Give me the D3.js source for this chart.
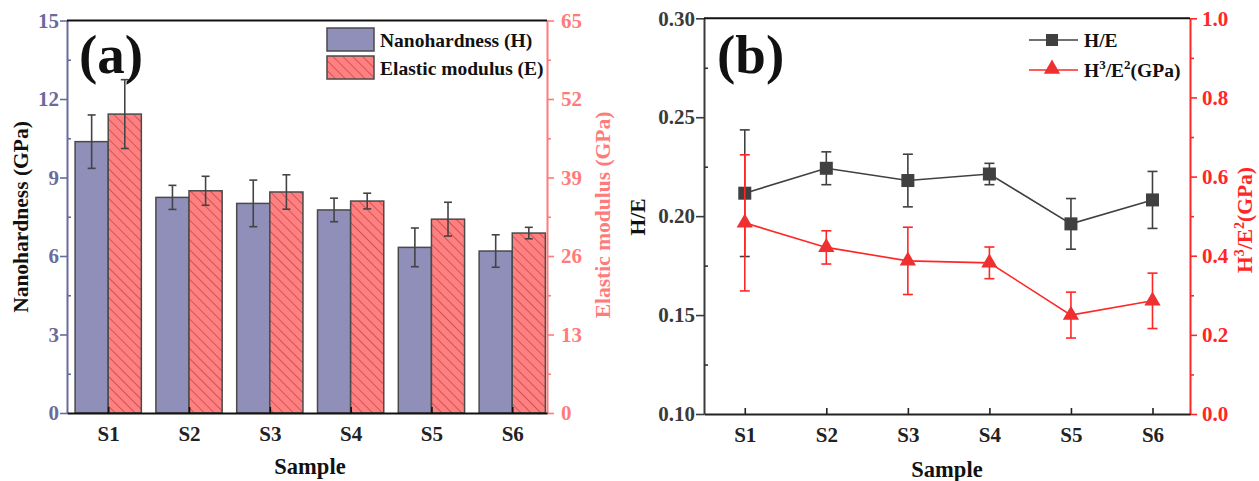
<!DOCTYPE html>
<html lang="en">
<head>
<meta charset="UTF-8" />
<title>Nanohardness and H/E</title>
<script src="https://d3js.org/d3.v7.min.js"></script>
<style>
  body { margin: 0; background: #fff; }
  text { font-family: "Liberation Serif", "Times New Roman", serif; font-weight: bold; }
</style>
</head>
<body>
<script>
  // ---- data ----
  const samples = ["S1", "S2", "S3", "S4", "S5", "S6"];

  // panel (a)
  const hardness    = [10.37, 8.24, 8.01, 7.76, 6.33, 6.19];
  const hardnessErr = [1.02, 0.46, 0.89, 0.45, 0.74, 0.62];
  const modulus     = [49.5, 36.8, 36.6, 35.1, 32.1, 29.8];
  const modulusErr  = [5.7, 2.4, 2.85, 1.3, 2.8, 0.95];

  // panel (b)
  const hOverE     = [0.2116, 0.2242, 0.2180, 0.2213, 0.1961, 0.2082];
  const hOverEErr  = [0.032, 0.0083, 0.0133, 0.0054, 0.0128, 0.0144];
  const h3e2       = [0.483, 0.421, 0.387, 0.382, 0.250, 0.286];
  const h3e2Err    = [0.172, 0.042, 0.085, 0.040, 0.058, 0.070];

  const leftTicksA  = [0, 3, 6, 9, 12, 15];
  const rightTicksA = [0, 13, 26, 39, 52, 65];
  const leftTicksB  = [0.10, 0.15, 0.20, 0.25, 0.30];
  const rightTicksB = [0, 0.2, 0.4, 0.6, 0.8, 1.0];

  const W = 1259, H = 481;
  const svg = d3.select("body").append("svg").attr("width", W).attr("height", H);

  const purple = "#6b6b9b", salmon = "#ff7b7b", red = "#ff2626", dark = "#404040";
  const FS = 21;      // tick labels
  const TS = 21.5;    // axis titles
  const LS = 19.5;    // legend
  const idx = samples.map((d, i) => i + 1);

  // hatch pattern for modulus bars
  const defs = svg.append("defs");
  const pat = defs.append("pattern")
    .attr("id", "hatch").attr("patternUnits", "userSpaceOnUse")
    .attr("width", 7).attr("height", 7)
    .attr("patternTransform", "rotate(45)");
  pat.append("rect").attr("width", 7).attr("height", 7).attr("fill", "#ff8080");
  pat.append("line").attr("x1", 0).attr("y1", 0).attr("x2", 7).attr("y2", 0)
    .attr("stroke", "#c84848").attr("stroke-width", 1.6);

  function styleAxis(g, color) {
    g.attr("font-family", null).attr("font-size", null);
    g.select(".domain").attr("stroke", color).attr("stroke-width", 2);
    g.selectAll(".tick line").attr("stroke", color).attr("stroke-width", 1.6);
    g.selectAll(".tick text").attr("fill", color).attr("font-size", FS);
  }
  function styleMinor(g, color) {
    g.select(".domain").remove();
    g.selectAll("line").attr("stroke", color).attr("stroke-width", 1.6);
  }

  // ================= panel (a) =================
  const ax = d3.scaleLinear().domain([0.49, 6.43]).range([67, 547]);
  const ayL = d3.scaleLinear().domain([0, 15]).range([413, 20.5]);
  const ayR = d3.scaleLinear().domain([0, 65]).range([413, 20.5]);
  const bw = 0.41;

  const ga = svg.append("g");

  // bars
  ga.selectAll(".barH").data(hardness).join("rect")
    .attr("x", (d, i) => ax(idx[i] - bw))
    .attr("width", ax(bw) - ax(0))
    .attr("y", d => ayL(d))
    .attr("height", d => ayL(0) - ayL(d))
    .attr("fill", "#8f8fb9").attr("stroke", "#4a4a4a").attr("stroke-width", 1.5);
  ga.selectAll(".barE").data(modulus).join("rect")
    .attr("x", (d, i) => ax(idx[i]))
    .attr("width", ax(bw) - ax(0))
    .attr("y", d => ayR(d))
    .attr("height", d => ayR(0) - ayR(d))
    .attr("fill", "url(#hatch)").attr("stroke", "#4a4a4a").attr("stroke-width", 1.5);

  function errBars(g, xs, ys, es, yScale, color, cap, sw) {
    const e = g.append("g").attr("stroke", color).attr("stroke-width", sw).attr("fill", "none");
    ys.forEach((v, i) => {
      const x = xs[i];
      e.append("line").attr("x1", x).attr("x2", x).attr("y1", yScale(v - es[i])).attr("y2", yScale(v + es[i]));
      e.append("line").attr("x1", x - cap).attr("x2", x + cap).attr("y1", yScale(v - es[i])).attr("y2", yScale(v - es[i]));
      e.append("line").attr("x1", x - cap).attr("x2", x + cap).attr("y1", yScale(v + es[i])).attr("y2", yScale(v + es[i]));
    });
  }
  errBars(ga, idx.map(i => ax(i - bw / 2)), hardness, hardnessErr, ayL, "#444", 4, 1.6);
  errBars(ga, idx.map(i => ax(i + bw / 2)), modulus, modulusErr, ayR, "#444", 4, 1.6);

  // axes (a)
  ga.append("g").attr("transform", "translate(67,0)")
    .call(d3.axisLeft(ayL).tickValues(leftTicksA).tickSize(7).tickPadding(1).tickSizeOuter(0))
    .call(g => styleAxis(g, purple));
  ga.append("g").attr("transform", "translate(67,0)")
    .call(d3.axisLeft(ayL).tickValues(d3.range(1.5, 15, 3)).tickSize(-4).tickFormat("").tickSizeOuter(0))
    .call(g => styleMinor(g, purple));

  ga.append("g").attr("transform", "translate(547,0)")
    .call(d3.axisRight(ayR).tickValues(rightTicksA).tickSize(7).tickPadding(7).tickSizeOuter(0))
    .call(g => styleAxis(g, salmon));
  ga.append("g").attr("transform", "translate(547,0)")
    .call(d3.axisRight(ayR).tickValues(d3.range(6.5, 65, 13)).tickSize(4).tickFormat("").tickSizeOuter(0))
    .call(g => styleMinor(g, salmon));

  ga.append("g").attr("transform", "translate(0,413)")
    .call(d3.axisBottom(ax).tickValues(idx).tickFormat((d, i) => samples[i]).tickSize(-6).tickPadding(13).tickSizeOuter(0))
    .call(g => styleAxis(g, "#111"))
    .call(g => g.selectAll(".tick text").attr("fill", "#222"));
  ga.append("line").attr("x1", 67).attr("x2", 547).attr("y1", 20.5).attr("y2", 20.5)
    .attr("stroke", "#111").attr("stroke-width", 2);

  ga.append("text").attr("x", 79).attr("y", 73).attr("font-size", 55).attr("fill", "#111").text("(a)");
  ga.append("text").attr("transform", "translate(28,217) rotate(-90)").attr("text-anchor", "middle")
    .attr("font-size", TS).attr("fill", "#111").text("Nanohardness (GPa)");
  ga.append("text").attr("transform", "translate(610,215) rotate(-90)").attr("text-anchor", "middle")
    .attr("font-size", TS).attr("fill", salmon).text("Elastic modulus (GPa)");
  ga.append("text").attr("x", 310).attr("y", 474).attr("text-anchor", "middle")
    .attr("font-size", 22.5).attr("fill", "#111").text("Sample");

  // legend (a)
  const legA = ga.append("g");
  legA.append("rect").attr("x", 327).attr("y", 28).attr("width", 47).attr("height", 23)
    .attr("fill", "#8f8fb9").attr("stroke", "#4a4a4a").attr("stroke-width", 1.5);
  legA.append("rect").attr("x", 327).attr("y", 56).attr("width", 47).attr("height", 23)
    .attr("fill", "url(#hatch)").attr("stroke", "#4a4a4a").attr("stroke-width", 1.5);
  legA.append("text").attr("x", 380).attr("y", 47).attr("font-size", LS).attr("fill", "#111").text("Nanohardness (H)");
  legA.append("text").attr("x", 380).attr("y", 75).attr("font-size", LS).attr("fill", "#111").text("Elastic modulus (E)");

  // ================= panel (b) =================
  const bx = d3.scaleLinear().domain([0.5, 6.46]).range([704, 1190]);
  const byL = d3.scaleLinear().domain([0.10, 0.30]).range([414, 18.3]);
  const byR = d3.scaleLinear().domain([0, 1.0]).range([414, 18.3]);
  const gb = svg.append("g");

  // axes (b)
  gb.append("g").attr("transform", "translate(704,0)")
    .call(d3.axisLeft(byL).tickValues(leftTicksB).tickFormat(d3.format(".2f")).tickSize(8).tickPadding(1).tickSizeOuter(0))
    .call(g => styleAxis(g, "#3a3a3a"));
  gb.append("g").attr("transform", "translate(704,0)")
    .call(d3.axisLeft(byL).tickValues([0.125, 0.175, 0.225, 0.275]).tickSize(-4).tickFormat("").tickSizeOuter(0))
    .call(g => styleMinor(g, "#333"));

  gb.append("g").attr("transform", "translate(1190,0)")
    .call(d3.axisRight(byR).tickValues(rightTicksB).tickFormat(d3.format(".1f")).tickSize(7).tickPadding(5).tickSizeOuter(0))
    .call(g => styleAxis(g, red));
  gb.append("g").attr("transform", "translate(1190,0)")
    .call(d3.axisRight(byR).tickValues([0.1, 0.3, 0.5, 0.7, 0.9]).tickSize(4).tickFormat("").tickSizeOuter(0))
    .call(g => styleMinor(g, red));

  gb.append("g").attr("transform", "translate(0,414)")
    .call(d3.axisBottom(bx).tickValues(idx).tickFormat((d, i) => samples[i]).tickSize(-6).tickPadding(13).tickSizeOuter(0))
    .call(g => styleAxis(g, "#222"));
  gb.append("line").attr("x1", 704).attr("x2", 1190).attr("y1", 18.3).attr("y2", 18.3)
    .attr("stroke", "#111").attr("stroke-width", 2);

  // H/E series
  errBars(gb, idx.map(i => bx(i)), hOverE, hOverEErr, byL, dark, 5, 1.6);
  gb.append("path").datum(hOverE)
    .attr("d", d3.line().x((d, i) => bx(idx[i])).y(d => byL(d)))
    .attr("fill", "none").attr("stroke", dark).attr("stroke-width", 1.6);
  gb.selectAll(".sq").data(hOverE).join("rect")
    .attr("x", (d, i) => bx(idx[i]) - 6.5).attr("y", d => byL(d) - 6.5)
    .attr("width", 13).attr("height", 13).attr("fill", dark);

  // H3/E2 series
  errBars(gb, idx.map(i => bx(i)), h3e2, h3e2Err, byR, red, 5, 1.6);
  gb.append("path").datum(h3e2)
    .attr("d", d3.line().x((d, i) => bx(idx[i])).y(d => byR(d)))
    .attr("fill", "none").attr("stroke", red).attr("stroke-width", 1.6);
  const tri = d3.symbol().type(d3.symbolTriangle).size(115);
  gb.selectAll(".tri").data(h3e2).join("path")
    .attr("transform", (d, i) => `translate(${bx(idx[i])},${byR(d)})`)
    .attr("d", tri).attr("fill", "#ee3030");

  gb.append("text").attr("x", 717).attr("y", 73).attr("font-size", 55).attr("fill", "#111").text("(b)");
  gb.append("text").attr("transform", "translate(645,217) rotate(-90)").attr("text-anchor", "middle")
    .attr("font-size", TS).attr("fill", "#111").text("H/E");
  gb.append("text").attr("x", 947).attr("y", 477).attr("text-anchor", "middle")
    .attr("font-size", 22.5).attr("fill", "#111").text("Sample");

  function ratioLabel(t, small) {
    t.append("tspan").text("H");
    t.append("tspan").attr("dy", -8).attr("font-size", small).text("3");
    t.append("tspan").attr("dy", 8).text("/E");
    t.append("tspan").attr("dy", -8).attr("font-size", small).text("2");
    t.append("tspan").attr("dy", 8).text("(GPa)");
  }
  ratioLabel(gb.append("text").attr("transform", "translate(1252,220) rotate(-90)").attr("text-anchor", "middle")
    .attr("font-size", TS).attr("fill", red), 14);

  // legend (b)
  const legB = gb.append("g");
  legB.append("line").attr("x1", 1029).attr("x2", 1078).attr("y1", 40).attr("y2", 40).attr("stroke", dark).attr("stroke-width", 1.6);
  legB.append("rect").attr("x", 1046).attr("y", 34).attr("width", 12).attr("height", 12).attr("fill", dark);
  legB.append("text").attr("x", 1084).attr("y", 47).attr("font-size", LS).attr("fill", "#111").text("H/E");
  legB.append("line").attr("x1", 1029).attr("x2", 1078).attr("y1", 70).attr("y2", 70).attr("stroke", red).attr("stroke-width", 1.6);
  legB.append("path").attr("transform", "translate(1052,69)").attr("d", tri).attr("fill", "#ee3030");
  ratioLabel(legB.append("text").attr("x", 1084).attr("y", 77).attr("font-size", LS).attr("fill", "#111"), 13);
</script>
</body>
</html>
